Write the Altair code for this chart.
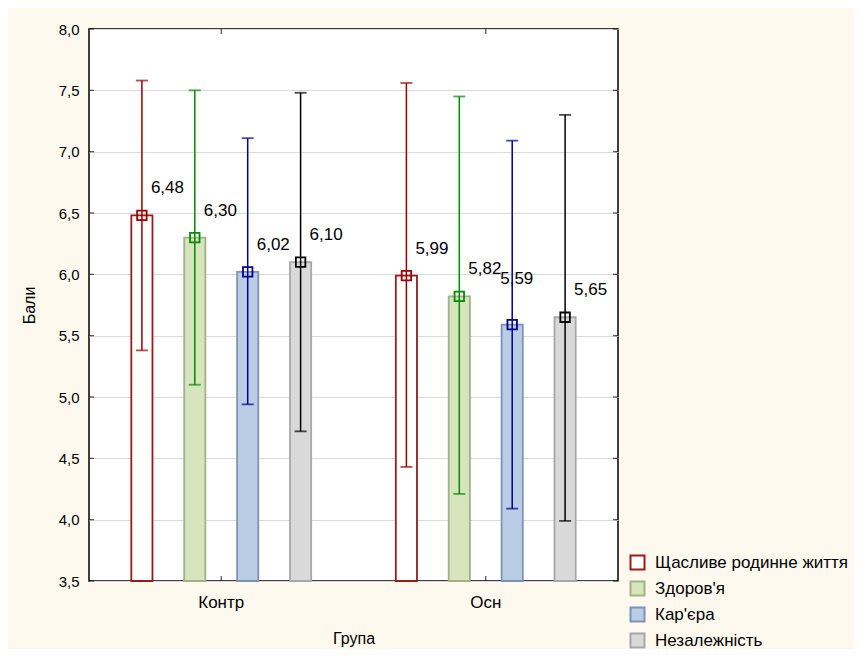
import altair as alt
import pandas as pd

groups = ["Контр", "Осн"]
series = ["Щасливе родинне життя", "Здоров'я", "Кар'єра", "Незалежність"]

means_kontr = [6.48, 6.30, 6.02, 6.10]
upper_kontr = [7.58, 7.50, 7.11, 7.48]
lower_kontr = [5.38, 5.10, 4.94, 4.72]

means_osn = [5.99, 5.82, 5.59, 5.65]
upper_osn = [7.56, 7.45, 7.09, 7.30]
lower_osn = [4.43, 4.21, 4.09, 3.99]

yticks = [3.5, 4.0, 4.5, 5.0, 5.5, 6.0, 6.5, 7.0, 7.5, 8.0]

bar_fills = ["#FFFFFF", "#D7E4BD", "#B9CDE5", "#D9D9D9"]
bar_strokes = ["#9B1B1B", "#A2B287", "#7D93B2", "#A8A8A8"]
line_colors = ["#9B0000", "#008C00", "#00008C", "#000000"]

rows = []
for g, ms, us, ls in [(groups[0], means_kontr, upper_kontr, lower_kontr),
                      (groups[1], means_osn, upper_osn, lower_osn)]:
    for s, m, u, l in zip(series, ms, us, ls):
        rows.append({"group": g, "series": s, "mean": m, "upper": u, "lower": l})
df = pd.DataFrame(rows)
df_groups = pd.DataFrame({"group": groups})
df_ticks = pd.DataFrame({"tick": yticks})

FONT = "Liberation Sans"
W, H = 529, 552

x_scale = alt.Scale(domain=groups, paddingInner=0, paddingOuter=0)
x_axis = alt.Axis(ticks=False, domain=False, labelAngle=0, labelPadding=13,
                  labelFontSize=17, labelFont=FONT, labelColor="black",
                  titleFont=FONT, titleFontSize=16, titleFontWeight="normal",
                  titleColor="black", titlePadding=20)
y_scale = alt.Scale(domain=[3.5, 8.0], nice=False, zero=False)
y_axis = alt.Axis(values=yticks, ticks=False, tickSize=0, domain=False, grid=True,
                  gridColor="#D9D9D9", gridWidth=1,
                  labelExpr="replace(format(datum.value, '.1f'), '.', ',')",
                  labelFontSize=15, labelFont=FONT, labelColor="black", labelPadding=10,
                  titleFont=FONT, titleFontSize=16, titleFontWeight="normal",
                  titleColor="black", titlePadding=21)
xo_scale = alt.Scale(domain=series, paddingInner=0.6, paddingOuter=0.8)


def X():
    return alt.X("group:N", scale=x_scale, axis=x_axis, title="Група", sort=groups)


def XO():
    return alt.XOffset("series:N", scale=xo_scale, sort=series)


def Y(field):
    return alt.Y(f"{field}:Q", scale=y_scale, axis=y_axis, title="Бали")


base = alt.Chart(df)

legend = alt.Legend(orient="none", legendX=540, legendY=525, title=None,
                    symbolType="square", symbolSize=196, symbolStrokeWidth=2,
                    labelFont=FONT, labelFontSize=17, labelColor="black",
                    labelLimit=400, rowPadding=3, labelOffset=9)

bars = base.mark_bar(strokeWidth=1.8).encode(
    x=X(), xOffset=XO(), y=Y("mean"), y2=alt.datum(3.5),
    fill=alt.Fill("series:N", scale=alt.Scale(domain=series, range=bar_fills),
                  sort=series, legend=legend),
    stroke=alt.Stroke("series:N", scale=alt.Scale(domain=series, range=bar_strokes),
                      sort=series, legend=legend),
)

line_color = alt.Color("series:N", scale=alt.Scale(domain=series, range=line_colors),
                       sort=series, legend=None)

rules = base.mark_rule(strokeWidth=1.5).encode(
    x=X(), xOffset=XO(), y=Y("lower"), y2="upper:Q", color=line_color)

caps_top = base.mark_tick(size=12, thickness=1.8, orient="horizontal").encode(
    x=X(), xOffset=XO(), y=Y("upper"), color=line_color)
caps_bot = base.mark_tick(size=12, thickness=1.8, orient="horizontal").encode(
    x=X(), xOffset=XO(), y=Y("lower"), color=line_color)

points = base.mark_point(shape="square", filled=False, size=90, strokeWidth=1.8,
                         opacity=1).encode(
    x=X(), xOffset=XO(), y=Y("mean"), color=line_color)

lbl = base.transform_calculate(
    label="replace(format(datum.mean, '.2f'), '.', ',')",
    key="datum.group + '|' + datum.series",
)
special = "Осн|Кар'єра"
labels = lbl.transform_filter(f"datum.key != \"{special}\"").mark_text(
    align="left", baseline="middle", dx=9, dy=-27, font=FONT, fontSize=17,
    color="black").encode(x=X(), xOffset=XO(), y=Y("mean"), text="label:N")
labels_sp = lbl.transform_filter(f"datum.key == \"{special}\"").mark_text(
    align="left", baseline="middle", dx=-12, dy=-46, font=FONT, fontSize=17,
    color="black").encode(x=X(), xOffset=XO(), y=Y("mean"), text="label:N")

tick_l = alt.Chart(df_ticks).mark_tick(size=5, thickness=1.2, color="black",
                                       orient="horizontal").encode(
    y=Y("tick"), x=alt.value(2.5))
tick_r = alt.Chart(df_ticks).mark_tick(size=5, thickness=1.2, color="black",
                                       orient="horizontal").encode(
    y=Y("tick"), x=alt.value(W - 2.5))
tick_b = alt.Chart(df_groups).mark_tick(size=5, thickness=1.2, color="black",
                                        orient="vertical").encode(
    x=X(), y=alt.value(H - 2.5))
tick_t = alt.Chart(df_groups).mark_tick(size=5, thickness=1.2, color="black",
                                        orient="vertical").encode(
    x=X(), y=alt.value(2.5))

chart = alt.layer(
    bars, rules, caps_top, caps_bot, points, labels, labels_sp,
    tick_l, tick_r, tick_b, tick_t
).properties(
    width=W, height=H,
    autosize=alt.AutoSizeParams(type="none"),
    padding={"left": 81, "top": 21, "right": 236, "bottom": 68},
    background="#FEF9EE",
).configure_view(
    fill="white", stroke="black", strokeWidth=1.5
).configure_axis(
    titleFont=FONT, titleFontWeight="normal", titleColor="black"
)

chart.save("out.html", embed_options={"renderer": "svg", "actions": False})
